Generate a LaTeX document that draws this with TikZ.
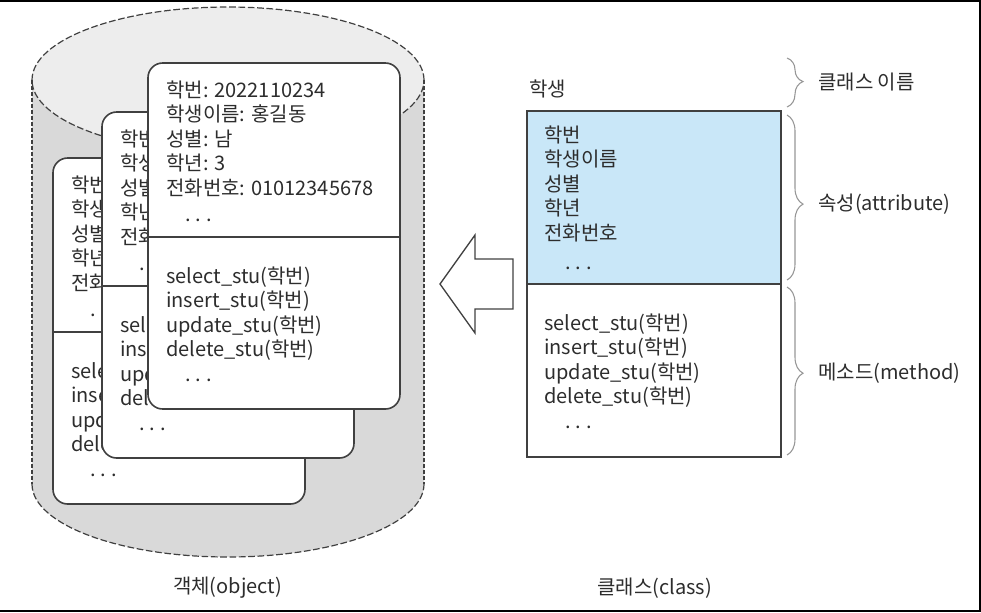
\documentclass[tikz,border=0pt]{standalone}
\usepackage{fontspec}
\setmainfont{Noto Sans CJK KR}
\usetikzlibrary{decorations.pathreplacing}
\definecolor{ink}{RGB}{45,45,45}
\definecolor{edge}{RGB}{64,64,64}
\definecolor{cylside}{RGB}{217,217,217}
\definecolor{cyltop}{RGB}{237,237,237}
\definecolor{attrblue}{RGB}{201,231,248}
\definecolor{bracegray}{RGB}{150,150,150}
\newcommand{\etcdots}{.\hspace{3.7pt}.\hspace{3.7pt}.}
\tikzset{
  every node/.style={font=\fontsize{15pt}{18pt}\selectfont, text=ink, inner sep=0pt},
  txtrow/.style={anchor=base west},
  cardbox/.style={draw=edge, fill=white, line width=1.2pt, rounded corners=11pt},
  rimdash/.style={draw=edge, line width=0.9pt, dash pattern=on 5pt off 2pt},
  sidedash/.style={draw=edge, line width=0.9pt, dash pattern=on 3pt off 1.5pt},
  curly/.style={draw=bracegray, line width=0.8pt, decorate},
  card/.pic={code={%

      % frame and divider
      \draw[cardbox] (0,0) rectangle (252,346);
      \draw[edge, line width=1.2pt] (0,174) -- (252,174);

      % attributes
      \foreach \entry [count=\i] in {학번: 2022110234, 학생이름: 홍길동, 성별: 남, 학년: 3, 전화번호: 01012345678}
        \node[txtrow] (-a\i) at (18,{34+(\i-1)*24.5}) {\entry};
      \node[txtrow] (-ad) at (37,158) {\etcdots};

      % methods
      \foreach \entry [count=\i] in {select\_stu(학번), insert\_stu(학번), update\_stu(학번), delete\_stu(학번)}
        \node[txtrow] (-m\i) at (18,{220+(\i-1)*24.5}) {\entry};
      \node[txtrow] (-md) at (37,318) {\etcdots};
}}}

\begin{document}
\begin{tikzpicture}[x=0.75pt, y=-0.75pt]
    \useasboundingbox (0,0) rectangle (981,612);

    % cylinder of objects
    \fill[cylside] (32,80) -- (32,484)
        arc[start angle=180, end angle=360, x radius=147pt, y radius=54.75pt] -- (424,80) -- cycle;
    \filldraw[fill=cyltop, rimdash] (228,80) ellipse[x radius=147pt, y radius=54.75pt];
    \draw[sidedash] (32,80) -- (32,484);
    \draw[sidedash] (424,80) -- (424,484);
    \draw[rimdash] (32,484) arc[start angle=180, end angle=360, x radius=147pt, y radius=54.75pt];

    % object cards, back to front
    \pic (c1) at (53,158) {card};
    \pic (c2) at (102,112) {card};
    \pic (c3) at (148,63) {card};

    % hollow arrow
    \draw[edge, line width=1pt, line join=miter]
        (440,284) -- (475,235) -- (475,259) -- (513,259) -- (513,309) -- (475,309) -- (475,333) -- cycle;

    % class box
    \fill[attrblue] (527,111) rectangle (781,284);
    \draw[edge, line width=1pt] (527,111) rectangle (781,457);
    \draw[edge, line width=1pt] (527,284) -- (781,284);
    \node[txtrow] (cname) at (529,96) {학생};
    \foreach \entry [count=\i] in {학번, 학생이름, 성별, 학년, 전화번호}
      \node[txtrow] (ca\i) at (544,{142+(\i-1)*24.5}) {\entry};
    \node[txtrow] (cad) at (565,269.5) {\etcdots};
    \foreach \entry [count=\i] in {select\_stu(학번), insert\_stu(학번), update\_stu(학번), delete\_stu(학번)}
      \node[txtrow] (cm\i) at (544,{330+(\i-1)*24.5}) {\entry};
    \node[txtrow] (cmd) at (565,428.5) {\etcdots};

    % braces
    \draw[curly, decoration={brace, amplitude=12pt, aspect=0.48}] (787,58) -- (787,107);
    \draw[curly, decoration={brace, amplitude=12pt, aspect=0.54}] (787,115) -- (787,280);
    \draw[curly, decoration={brace, amplitude=12pt, aspect=0.513}] (787,287) -- (787,455);

    % add labels
    \node[anchor=west] (lname) at (818,82) {클래스 이름};
    \node[anchor=west] (lattr) at (818,204) {속성(attribute)};
    \node[anchor=west] (lmeth) at (818,373) {메소드(method)};
    \node (lobj) at (227.5,588) {객체(object)};
    \node (lcls) at (654.5,588) {클래스(class)};

    % frame
    \draw[black, line width=1.5pt, line join=miter] (0,1.2) -- (980,1.2) -- (980,611) -- (0,611);
\end{tikzpicture}
\end{document}
